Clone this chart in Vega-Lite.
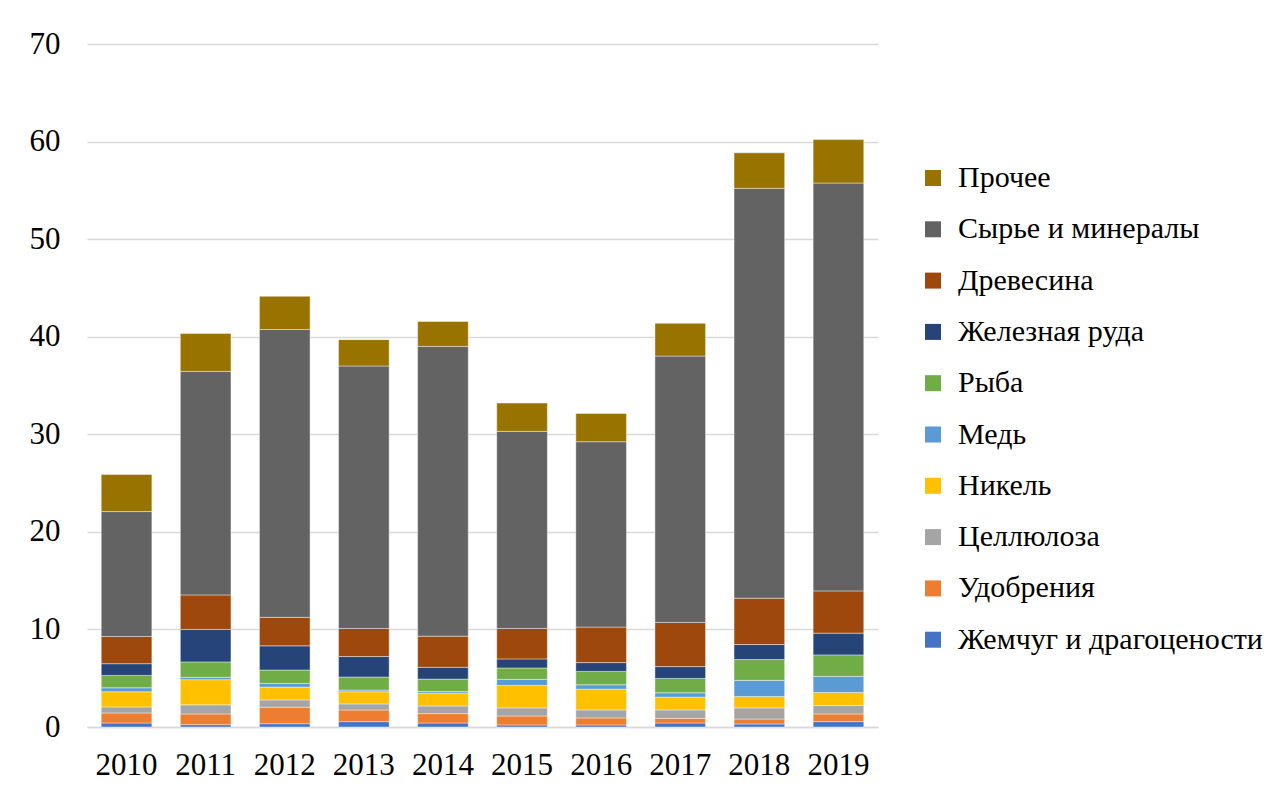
{
  "$schema": "https://vega.github.io/schema/vega-lite/v6.json",
  "autosize": {"type": "none"},
  "padding": {"left": 87, "top": 44, "right": 407, "bottom": 66},
  "width": 791,
  "height": 683,
  "background": "#ffffff",
  "config": {
    "font": "Liberation Serif",
    "view": {"stroke": null}
  },
  "data": {"values": [
    {"year":"2010","cat":"Жемчуг и драгоцености","ord":1,"value":0.41},
    {"year":"2010","cat":"Удобрения","ord":2,"value":1.03},
    {"year":"2010","cat":"Целлюлоза","ord":3,"value":0.62},
    {"year":"2010","cat":"Никель","ord":4,"value":1.55},
    {"year":"2010","cat":"Медь","ord":5,"value":0.41},
    {"year":"2010","cat":"Рыба","ord":6,"value":1.27},
    {"year":"2010","cat":"Железная руда","ord":7,"value":1.20},
    {"year":"2010","cat":"Древесина","ord":8,"value":2.79},
    {"year":"2010","cat":"Сырье и минералы","ord":9,"value":12.8},
    {"year":"2010","cat":"Прочее","ord":10,"value":3.8},
    {"year":"2011","cat":"Жемчуг и драгоцености","ord":1,"value":0.24},
    {"year":"2011","cat":"Удобрения","ord":2,"value":1.10},
    {"year":"2011","cat":"Целлюлоза","ord":3,"value":0.93},
    {"year":"2011","cat":"Никель","ord":4,"value":2.58},
    {"year":"2011","cat":"Медь","ord":5,"value":0.24},
    {"year":"2011","cat":"Рыба","ord":6,"value":1.58},
    {"year":"2011","cat":"Железная руда","ord":7,"value":3.33},
    {"year":"2011","cat":"Древесина","ord":8,"value":3.54},
    {"year":"2011","cat":"Сырье и минералы","ord":9,"value":22.9},
    {"year":"2011","cat":"Прочее","ord":10,"value":3.9},
    {"year":"2012","cat":"Жемчуг и драгоцености","ord":1,"value":0.34},
    {"year":"2012","cat":"Удобрения","ord":2,"value":1.69},
    {"year":"2012","cat":"Целлюлоза","ord":3,"value":0.75},
    {"year":"2012","cat":"Никель","ord":4,"value":1.31},
    {"year":"2012","cat":"Медь","ord":5,"value":0.38},
    {"year":"2012","cat":"Рыба","ord":6,"value":1.37},
    {"year":"2012","cat":"Железная руда","ord":7,"value":2.48},
    {"year":"2012","cat":"Древесина","ord":8,"value":2.92},
    {"year":"2012","cat":"Сырье и минералы","ord":9,"value":29.5},
    {"year":"2012","cat":"Прочее","ord":10,"value":3.4},
    {"year":"2013","cat":"Жемчуг и драгоцености","ord":1,"value":0.55},
    {"year":"2013","cat":"Удобрения","ord":2,"value":1.20},
    {"year":"2013","cat":"Целлюлоза","ord":3,"value":0.62},
    {"year":"2013","cat":"Никель","ord":4,"value":1.24},
    {"year":"2013","cat":"Медь","ord":5,"value":0.17},
    {"year":"2013","cat":"Рыба","ord":6,"value":1.34},
    {"year":"2013","cat":"Железная руда","ord":7,"value":2.10},
    {"year":"2013","cat":"Древесина","ord":8,"value":2.88},
    {"year":"2013","cat":"Сырье и минералы","ord":9,"value":26.9},
    {"year":"2013","cat":"Прочее","ord":10,"value":2.7},
    {"year":"2014","cat":"Жемчуг и драгоцености","ord":1,"value":0.41},
    {"year":"2014","cat":"Удобрения","ord":2,"value":0.96},
    {"year":"2014","cat":"Целлюлоза","ord":3,"value":0.79},
    {"year":"2014","cat":"Никель","ord":4,"value":1.31},
    {"year":"2014","cat":"Медь","ord":5,"value":0.17},
    {"year":"2014","cat":"Рыба","ord":6,"value":1.27},
    {"year":"2014","cat":"Железная руда","ord":7,"value":1.21},
    {"year":"2014","cat":"Древесина","ord":8,"value":3.19},
    {"year":"2014","cat":"Сырье и минералы","ord":9,"value":29.7},
    {"year":"2014","cat":"Прочее","ord":10,"value":2.55},
    {"year":"2015","cat":"Жемчуг и драгоцености","ord":1,"value":0.21},
    {"year":"2015","cat":"Удобрения","ord":2,"value":0.92},
    {"year":"2015","cat":"Целлюлоза","ord":3,"value":0.83},
    {"year":"2015","cat":"Никель","ord":4,"value":2.30},
    {"year":"2015","cat":"Медь","ord":5,"value":0.62},
    {"year":"2015","cat":"Рыба","ord":6,"value":1.17},
    {"year":"2015","cat":"Железная руда","ord":7,"value":0.93},
    {"year":"2015","cat":"Древесина","ord":8,"value":3.12},
    {"year":"2015","cat":"Сырье и минералы","ord":9,"value":20.2},
    {"year":"2015","cat":"Прочее","ord":10,"value":2.9},
    {"year":"2016","cat":"Жемчуг и драгоцености","ord":1,"value":0.21},
    {"year":"2016","cat":"Удобрения","ord":2,"value":0.72},
    {"year":"2016","cat":"Целлюлоза","ord":3,"value":0.82},
    {"year":"2016","cat":"Никель","ord":4,"value":2.13},
    {"year":"2016","cat":"Медь","ord":5,"value":0.45},
    {"year":"2016","cat":"Рыба","ord":6,"value":1.37},
    {"year":"2016","cat":"Железная руда","ord":7,"value":0.90},
    {"year":"2016","cat":"Древесина","ord":8,"value":3.64},
    {"year":"2016","cat":"Сырье и минералы","ord":9,"value":19.0},
    {"year":"2016","cat":"Прочее","ord":10,"value":2.9},
    {"year":"2017","cat":"Жемчуг и драгоцености","ord":1,"value":0.41},
    {"year":"2017","cat":"Удобрения","ord":2,"value":0.48},
    {"year":"2017","cat":"Целлюлоза","ord":3,"value":0.86},
    {"year":"2017","cat":"Никель","ord":4,"value":1.31},
    {"year":"2017","cat":"Медь","ord":5,"value":0.45},
    {"year":"2017","cat":"Рыба","ord":6,"value":1.47},
    {"year":"2017","cat":"Железная руда","ord":7,"value":1.21},
    {"year":"2017","cat":"Древесина","ord":8,"value":4.53},
    {"year":"2017","cat":"Сырье и минералы","ord":9,"value":27.3},
    {"year":"2017","cat":"Прочее","ord":10,"value":3.35},
    {"year":"2018","cat":"Жемчуг и драгоцености","ord":1,"value":0.31},
    {"year":"2018","cat":"Удобрения","ord":2,"value":0.51},
    {"year":"2018","cat":"Целлюлоза","ord":3,"value":1.14},
    {"year":"2018","cat":"Никель","ord":4,"value":1.17},
    {"year":"2018","cat":"Медь","ord":5,"value":1.65},
    {"year":"2018","cat":"Рыба","ord":6,"value":2.13},
    {"year":"2018","cat":"Железная руда","ord":7,"value":1.54},
    {"year":"2018","cat":"Древесина","ord":8,"value":4.75},
    {"year":"2018","cat":"Сырье и минералы","ord":9,"value":42.0},
    {"year":"2018","cat":"Прочее","ord":10,"value":3.65},
    {"year":"2019","cat":"Жемчуг и драгоцености","ord":1,"value":0.55},
    {"year":"2019","cat":"Удобрения","ord":2,"value":0.79},
    {"year":"2019","cat":"Целлюлоза","ord":3,"value":0.86},
    {"year":"2019","cat":"Никель","ord":4,"value":1.34},
    {"year":"2019","cat":"Медь","ord":5,"value":1.65},
    {"year":"2019","cat":"Рыба","ord":6,"value":2.20},
    {"year":"2019","cat":"Железная руда","ord":7,"value":2.23},
    {"year":"2019","cat":"Древесина","ord":8,"value":4.33},
    {"year":"2019","cat":"Сырье и минералы","ord":9,"value":41.8},
    {"year":"2019","cat":"Прочее","ord":10,"value":4.45}
  ]},
  "mark": {"type": "bar", "stroke": "#ffffff", "strokeWidth": 0.6, "strokeOpacity": 0.7},
  "encoding": {
    "x": {
      "field": "year", "type": "nominal", "title": null,
      "scale": {"paddingInner": 0.36, "paddingOuter": 0.18},
      "axis": {"labelAngle": 0, "labelPadding": 23, "labelFontSize": 31, "labelFont": "Liberation Serif", "labelColor": "#000000", "ticks": false, "domain": true, "domainColor": "#d9d9d9", "domainWidth": 1.5, "grid": false}
    },
    "y": {
      "field": "value", "type": "quantitative", "title": null, "stack": "zero",
      "scale": {"domain": [0, 70], "nice": false},
      "axis": {"values": [0, 10, 20, 30, 40, 50, 60, 70], "grid": true, "gridColor": "#d9d9d9", "gridWidth": 1.5, "ticks": false, "domain": false, "labelPadding": 27, "labelFontSize": 31, "labelFont": "Liberation Serif", "labelColor": "#000000"}
    },
    "order": {"field": "ord", "type": "quantitative", "sort": "ascending"},
    "color": {
      "field": "cat", "type": "nominal", "title": null,
      "scale": {
        "domain": ["Прочее", "Сырье и минералы", "Древесина", "Железная руда", "Рыба", "Медь", "Никель", "Целлюлоза", "Удобрения", "Жемчуг и драгоцености"],
        "range": ["#997300", "#636363", "#9E480E", "#264478", "#70AD47", "#5B9BD5", "#FFC000", "#A5A5A5", "#ED7D31", "#4472C4"]
      },
      "legend": {
        "orient": "none", "legendX": 831, "legendY": 119,
        "symbolType": "square", "symbolSize": 256, "symbolStrokeWidth": 0,
        "labelFont": "Liberation Serif", "labelFontSize": 30, "labelColor": "#000000",
        "labelOffset": 10, "rowPadding": 21.3, "labelLimit": 400
      }
    }
  }
}
